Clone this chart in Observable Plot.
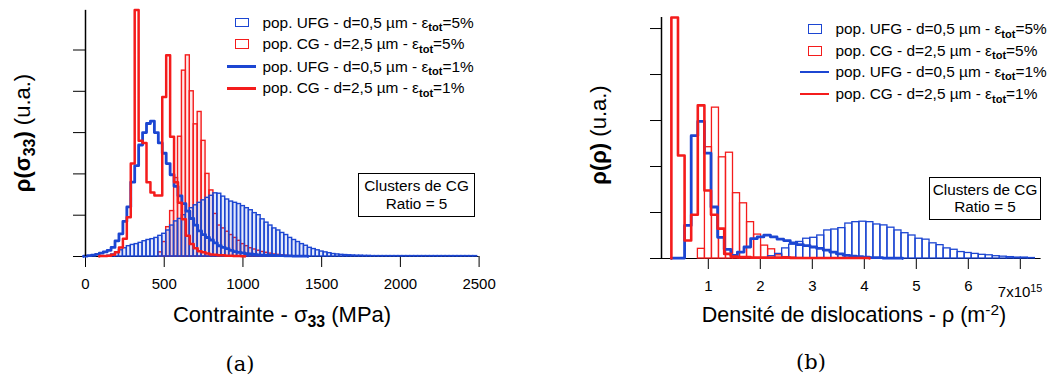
<!DOCTYPE html>
<html><head><meta charset="utf-8">
<script src="https://cdn.jsdelivr.net/npm/d3@7"></script>
<script src="https://cdn.jsdelivr.net/npm/@observablehq/plot@0.6"></script>
<style>
html,body{margin:0;padding:0;background:#fff;}
#fig{position:relative;width:1050px;height:376px;overflow:hidden;font-family:"Liberation Sans",Arial,Helvetica,sans-serif;color:#000;}
.panel{position:absolute;top:0;width:520px;height:300px;}
.panel svg{position:absolute;left:0;top:0;}
.t{position:absolute;white-space:nowrap;line-height:1;}
.sub{font-size:0.72em;position:relative;top:0.32em;font-weight:bold;}
.sup{font-size:0.72em;position:relative;top:-0.45em;}
.box{position:absolute;border:1.5px solid #000;background:#fff;text-align:center;font-size:15.3px;box-sizing:border-box;}
.box div{line-height:17.4px;}
.sq{position:absolute;box-sizing:border-box;border:1.6px solid;}
.ln{position:absolute;height:2.6px;}
</style></head>
<body><div id="fig"></div>
<script>
// ================= DATA =================
// (a) distributions of sigma_33 (MPa), bins of 25 MPa, values at bin centres (a.u.)
const stressBinWidth = 25;
const stressTicks = [0, 500, 1000, 1500, 2000, 2500];
const ufg5StressStart = 150;   // pop. UFG, eps_tot = 5 % (bars)
const ufg5Stress = [0.02,0.05,0.1,0.15,0.2,0.25,0.28,0.3,0.33,0.37,0.4,0.42,0.45,0.5,0.55,0.63,0.75,0.85,0.91,1.0,
  1.1,1.17,1.24,1.3,1.36,1.42,1.47,1.53,1.52,1.45,1.38,1.33,1.3,1.27,1.22,1.17,1.12,1.05,1.0,0.9,
  0.82,0.75,0.68,0.63,0.57,0.52,0.45,0.4,0.35,0.3,0.26,0.21,0.18,0.15,0.12,0.1,0.08,0.06,0.05,0.04,
  0.035,0.03,0.025,0.02,0.02,0.015,0.015,0.01,0.01,0.01,0.01,0.01,0.01,0.01,0.01,0.01,0.01,0.01,0.01,0.01,
  0.01,0.01,0.01,0.01,0.01,0.01,0.01,0.01,0.01,0.01,0.01,0.01,0.01,0.01];
const cg5StressStart = 475;    // pop. CG, eps_tot = 5 % (bars)
const cg5Stress = [0.1,0.35,0.71,1.1,1.9,2.9,4.5,4.87,4.0,3.2,3.5,2.8,2.0,1.6,1.03,0.75,0.68,0.6,0.52,0.45,
  0.38,0.3,0.25,0.2,0.17,0.14,0.11,0.09,0.07,0.05,0.04,0.03,0.02,0.01];
const ufg1StressStart = 0;     // pop. UFG, eps_tot = 1 % (line)
const ufg1Stress = [0.01,0.02,0.03,0.05,0.08,0.11,0.15,0.22,0.38,0.55,0.85,1.2,1.8,2.2,2.7,3.0,3.22,3.28,3.0,2.75,
  2.5,2.25,1.98,1.7,1.47,1.28,1.1,0.92,0.76,0.62,0.53,0.46,0.4,0.33,0.26,0.22,0.19,0.15,0.12,0.1,
  0.09,0.07,0.06,0.05,0.04,0.035,0.03,0.03,0.025,0.02,0.02,0.015,0.015,0.01,0.01,0.01,0.01];
const cg1StressStart = 100;    // pop. CG, eps_tot = 1 % (line)
const cg1Stress = [0.01,0.01,0.02,0.04,0.1,0.22,0.43,0.95,2.25,5.97,2.8,2.75,1.8,1.55,1.48,1.48,3.86,4.87,2.9,1.8,
  1.3,0.9,0.5,0.3,0.2,0.13,0.1,0.07,0.05,0.04,0.03,0.03,0.02,0.02,0.01,0.01,0.005];

// (b) distributions of dislocation density rho (units of 1e15 m^-2)
const rhoTicks = [1, 2, 3, 4, 5, 6, 7];
const rhoBarWidth = 0.135, rhoBarFirstEdge = 0.8;
const cg5RhoFirstBin = 0;      // pop. CG, 5 % (bars)
const cg5Rho = [0.21,2.42,3.28,2.2,2.3,1.42,1.2,0.79,0.52,0.28,0.2,0.07,0.03,0.02,0.01];
const ufg5RhoFirstBin = 10;    // pop. UFG, 5 % (bars)
const ufg5Rho = [0.05,0.1,0.22,0.3,0.36,0.43,0.45,0.5,0.61,0.63,0.66,0.76,0.79,0.8,0.79,0.74,0.72,0.67,0.61,0.55,
  0.5,0.43,0.41,0.33,0.29,0.22,0.19,0.14,0.12,0.1,0.08,0.07,0.05,0.04,0.03,0.02,0.02,0.01];
const rhoLineWidth = 0.127, rhoLineFirstEdge = 0.29;
const ufg1Rho = [0.01,0.01,0.72,2.67,2.98,2.29,1.12,0.46,0.2,0.07,0.14,0.25,0.43,0.47,0.51,0.47,0.42,0.39,0.34,0.3,
  0.28,0.25,0.22,0.18,0.14,0.1,0.07,0.05,0.04,0.03,0.02,0.02,0.01,0.01,0.01];
const cg1Rho = [5.24,2.24,0.39,0.95,3.33,1.48,0.95,0.65,0.1,0.04,0.03,0.03,0.02,0.02,0.02,0.02,0.02,0.02,0.01,0.01,
  0.01,0.01,0.01,0.01,0.01,0.01,0.01,0.01,0.01,0.01];

const legendLabels = [
  "pop. UFG - d=0,5 µm - ε<span class=sub>tot</span>=5%",
  "pop. CG - d=2,5 µm - ε<span class=sub>tot</span>=5%",
  "pop. UFG - d=0,5 µm - ε<span class=sub>tot</span>=1%",
  "pop. CG - d=2,5 µm - ε<span class=sub>tot</span>=1%"
];

// ================= HELPERS =================
const BLUE = "#1c46d2", RED = "#f41c1c";
const barsCentres = (start, w, vals) => vals.map((v, i) => ({x1: start + (i - 0.5) * w, x2: start + (i + 0.5) * w, v}));
const barsEdges = (first, w, k0, vals) => vals.map((v, i) => ({x1: first + (k0 + i) * w, x2: first + (k0 + i + 1) * w, v}));
function steps(firstEdge, w, vals) {
  const pts = [{x: firstEdge, v: 0}];
  vals.forEach((v, i) => pts.push({x: firstEdge + i * w, v}));
  const end = firstEdge + vals.length * w;
  pts.push({x: end, v: vals[vals.length - 1]}, {x: end, v: 0});
  return pts;
}
const fig = document.getElementById("fig");
function addPanel(left, chart) {
  const d = document.createElement("div");
  d.className = "panel"; d.style.left = left + "px";
  d.appendChild(chart); fig.appendChild(d);
}
function txt(html, x, y, fs, anchor, extra) {
  const d = document.createElement("div");
  d.className = "t"; d.innerHTML = html;
  d.style.left = x + "px"; d.style.top = y + "px"; d.style.fontSize = fs + "px";
  d.style.transform = anchor === "start" ? "translate(0,-50%)" : anchor === "rot" ? "translate(-50%,-50%) rotate(-90deg)" : "translate(-50%,-50%)";
  if (extra) Object.assign(d.style, extra);
  fig.appendChild(d);
}
function legend(x0, rows, sqW) {
  const kinds = ["bar", "bar", "line", "line"], cols = [BLUE, RED, BLUE, RED];
  rows.forEach((cy, i) => {
    const el = document.createElement("div");
    if (kinds[i] === "bar") {
      el.className = "sq"; el.style.borderColor = cols[i];
      el.style.left = (x0 + 8) + "px"; el.style.width = sqW + "px";
      el.style.top = (cy - 4.8) + "px"; el.style.height = "9.6px";
    } else {
      el.className = "ln"; el.style.background = cols[i];
      el.style.left = x0 + "px"; el.style.width = "28.5px"; el.style.top = (cy - 1.3) + "px";
    }
    fig.appendChild(el);
    txt(legendLabels[i], x0 + 35.5, cy, 15.4, "start");
  });
}
const plotStyle = {fontFamily: '"Liberation Sans",Arial,sans-serif', fontSize: "15px", color: "#000", background: "transparent", overflow: "visible"};

// ================= PANEL (a) =================
const chartA = Plot.plot({
  width: 520, height: 300, marginLeft: 85, marginRight: 41.4, marginTop: 8.2, marginBottom: 44,
  style: plotStyle,
  x: {domain: [0, 2500], ticks: stressTicks, tickSize: 11, tickPadding: 10.5, tickFormat: d => String(d), label: null},
  y: {domain: [0, 6], ticks: [0, 1, 2, 3, 4, 5], tickSize: 12, tickFormat: () => "", label: null},
  marks: [
    Plot.ruleY([0], {stroke: "#000", strokeWidth: 1.2}),
    Plot.rectY(barsCentres(cg5StressStart, stressBinWidth, cg5Stress), {x1: "x1", x2: "x2", y: "v", fill: RED, fillOpacity: 0.1, stroke: RED, strokeWidth: 1.4}),
    Plot.rectY(barsCentres(ufg5StressStart, stressBinWidth, ufg5Stress), {x1: "x1", x2: "x2", y: "v", fill: BLUE, fillOpacity: 0.12, stroke: BLUE, strokeWidth: 1.4}),
    Plot.line(steps(ufg1StressStart - stressBinWidth / 2, stressBinWidth, ufg1Stress), {x: "x", y: "v", curve: "step-after", stroke: BLUE, strokeWidth: 2.8}),
    Plot.line(steps(cg1StressStart - stressBinWidth / 2, stressBinWidth, cg1Stress), {x: "x", y: "v", curve: "step-after", stroke: RED, strokeWidth: 2.5}),
    Plot.ruleX([0], {y1: 0, y2: 5.96, stroke: "#000", strokeWidth: 1.5})
  ]
});
addPanel(0, chartA);

// ================= PANEL (b) =================
const chartB = Plot.plot({
  width: 520, height: 300, marginLeft: 131, marginRight: 9.4, marginTop: 17, marginBottom: 42,
  style: plotStyle,
  x: {domain: [0.1, 7.4], ticks: rhoTicks, tickSize: 11, tickPadding: 10.5, tickFormat: d => d === 7 ? "" : String(d), label: null},
  y: {domain: [0, 5.24], ticks: [0, 1, 2, 3, 4, 5], tickSize: 11, tickFormat: () => "", label: null},
  marks: [
    Plot.ruleY([0], {stroke: "#000", strokeWidth: 1.2}),
    Plot.rectY(barsEdges(rhoBarFirstEdge, rhoBarWidth, cg5RhoFirstBin, cg5Rho), {x1: "x1", x2: "x2", y: "v", fill: "none", stroke: RED, strokeWidth: 1.3}),
    Plot.rectY(barsEdges(rhoBarFirstEdge, rhoBarWidth, ufg5RhoFirstBin, ufg5Rho), {x1: "x1", x2: "x2", y: "v", fill: "none", stroke: BLUE, strokeWidth: 1.3}),
    Plot.line(steps(rhoLineFirstEdge, rhoLineWidth, ufg1Rho), {x: "x", y: "v", curve: "step-after", stroke: BLUE, strokeWidth: 2.8}),
    Plot.line(steps(rhoLineFirstEdge, rhoLineWidth, cg1Rho), {x: "x", y: "v", curve: "step-after", stroke: RED, strokeWidth: 2.6}),
    Plot.ruleX([0.1], {y1: 0, y2: 5.24, stroke: "#000", strokeWidth: 1.5})
  ]
});
addPanel(530, chartB);

// ================= TEXT =================
txt("<b>ρ(σ<span class=sub>33</span>)</b> (u.a.)", 23, 133, 22, "rot");
txt("Contrainte - σ<span class=sub>33</span> (MPa)", 282, 315, 22);
txt("(a)", 240, 364, 21, "mid", {fontFamily: '"DejaVu Serif","Liberation Serif",serif'});
txt("<b>ρ(ρ)</b> (u.a.)", 599, 135, 22, "rot");
txt("Densité de dislocations - ρ (m<span class=sup>-2</span>)", 854, 316, 21.5);
txt("(b)", 811, 362, 21, "mid", {fontFamily: '"DejaVu Serif","Liberation Serif",serif'});
const x7 = 530 + chartB.scale("x").apply(7);
txt("7x10<span class=sup>15</span>", x7 - 22, 291, 15, "start");

legend(227, [22.5, 44.2, 66.7, 88.3], 13.5);
legend(800, [29.2, 50.8, 71.9, 94.0], 14);

function box(l, t, w, h, pad) {
  const b = document.createElement("div");
  b.className = "box";
  Object.assign(b.style, {left: l + "px", top: t + "px", width: w + "px", height: h + "px", paddingTop: pad + "px"});
  b.innerHTML = "<div>Clusters de CG</div><div>Ratio = 5</div>";
  fig.appendChild(b);
}
box(358, 172.7, 117, 44, 3.5);
box(929, 176.7, 112, 43.5, 3);
</script></body></html>
